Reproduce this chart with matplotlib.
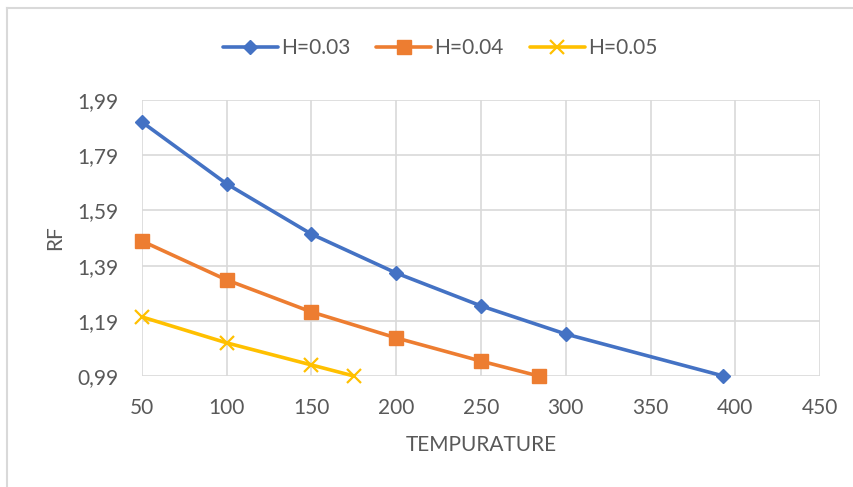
import matplotlib
matplotlib.use("Agg")
import matplotlib.pyplot as plt
from matplotlib.lines import Line2D
from matplotlib.ticker import FixedLocator, FuncFormatter

# Series data
temp_h003 = [50, 100, 150, 200, 250, 300, 393]
rf_h003 = [1.91, 1.686, 1.504, 1.363, 1.244, 1.142, 0.99]

temp_h004 = [50, 100, 150, 200, 250, 284]
rf_h004 = [1.479, 1.338, 1.222, 1.128, 1.044, 0.99]

temp_h005 = [50, 100, 150, 175]
rf_h005 = [1.204, 1.11, 1.03, 0.99]

x_ticks = [50, 100, 150, 200, 250, 300, 350, 400, 450]
y_ticks = [0.99, 1.19, 1.39, 1.59, 1.79, 1.99]

labels = ["H=0.03", "H=0.04", "H=0.05"]
colors = ["#4472C4", "#ED7D31", "#FFC000"]
text_color = "#595959"
grid_color = "#D9D9D9"

plt.rcParams["font.family"] = ["Lato", "DejaVu Sans"]
fs = 15

fig = plt.figure(figsize=(8.54, 4.87), dpi=100)
ax = fig.add_axes([142 / 854, 1 - 376 / 487, (820 - 142) / 854, (376 - 100) / 487])

ax.plot(temp_h003, rf_h003, color=colors[0], lw=2.6, marker="D", ms=7.5,
        label=labels[0], solid_capstyle="round", zorder=3, clip_on=False)
ax.plot(temp_h004, rf_h004, color=colors[1], lw=2.6, marker="s", ms=10,
        label=labels[1], solid_capstyle="round", zorder=3, clip_on=False)
ax.plot(temp_h005, rf_h005, color=colors[2], lw=2.6, marker="x", ms=10, mew=1.6,
        label=labels[2], solid_capstyle="round", zorder=3, clip_on=False)

ax.set_xlim(50, 450)
ax.set_ylim(0.99, 1.99)
ax.xaxis.set_major_locator(FixedLocator(x_ticks))
ax.yaxis.set_major_locator(FixedLocator(y_ticks))
ax.yaxis.set_major_formatter(FuncFormatter(lambda v, p: f"{v:.2f}".replace(".", ",")))

ax.grid(True, color=grid_color, lw=1.2)
ax.set_axisbelow(True)
for s in ax.spines.values():
    s.set_visible(False)
ax.tick_params(length=0, colors=text_color, labelsize=fs)
ax.tick_params(axis="y", pad=17)
ax.tick_params(axis="x", pad=16)

ax.set_xlabel("TEMPURATURE", color=text_color, fontsize=fs, labelpad=12)
ax.set_ylabel("RF", color=text_color, fontsize=fs, labelpad=9)

leg = fig.legend(loc="center", bbox_to_anchor=(440 / 854, 1 - 48 / 487), ncol=3,
                 frameon=False, fontsize=fs, handlelength=2.64, columnspacing=1.25,
                 handletextpad=0.15, labelcolor=text_color)

# Chart area border (left and top edges visible)
fig.add_artist(Line2D([7 / 854, 7 / 854], [0, 1 - 8 / 487], transform=fig.transFigure,
                      color="#D9D9D9", lw=1.5))
fig.add_artist(Line2D([7 / 854, 1], [1 - 8 / 487, 1 - 8 / 487], transform=fig.transFigure,
                      color="#D9D9D9", lw=1.5))

fig.savefig("out.png", dpi=100, facecolor="white")
